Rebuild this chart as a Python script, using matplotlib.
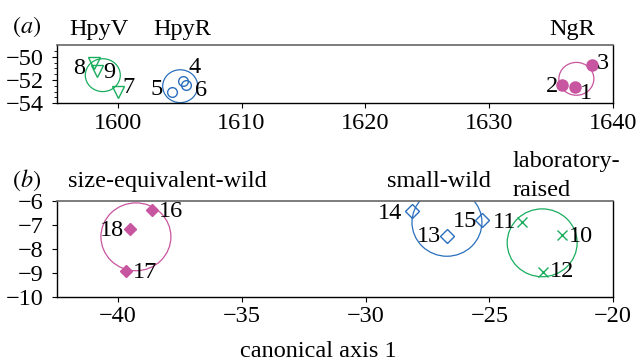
import numpy as np
import matplotlib
matplotlib.use("Agg")
import matplotlib.pyplot as plt
from matplotlib.patches import Circle

plt.rcParams['font.family'] = ['Liberation Serif', 'DejaVu Serif']
plt.rcParams['mathtext.fontset'] = 'stix'
plt.rcParams['font.size'] = 17.5
plt.rcParams['axes.unicode_minus'] = True

# panel (a): receptor groups
a_labels = ['1', '2', '3', '4', '5', '6', '7', '8', '9']
a_x = [1636.9, 1635.9, 1638.3, 1605.25, 1604.35, 1605.55, 1600.05, 1598.05, 1598.3]
a_y = [-52.6, -52.4, -50.7, -52.1, -53.05, -52.45, -53.05, -50.5, -51.2]
a_groups = {
    'NgR': [0, 1, 2],
    'HpyR': [3, 4, 5],
    'HpyV': [6, 7, 8],
}

# panel (b): fish origin groups
b_labels = ['10', '11', '12', '13', '14', '15', '16', '17', '18']
b_x = [-22.07, -23.68, -22.85, -26.72, -28.12, -25.3, -38.65, -39.69, -39.5]
b_y = [-7.43, -6.87, -8.96, -7.47, -6.43, -6.8, -6.39, -8.93, -7.19]
b_groups = {
    'laboratory-raised': [0, 1, 2],
    'small-wild': [3, 4, 5],
    'size-equivalent-wild': [6, 7, 8],
}

green = '#1aad5e'
blue = '#2a6fbd'
magenta = '#c8559f'
radius = 1.413  # 95% circle around the group mean (n = 3)

fig = plt.figure(figsize=(6.4, 3.61), dpi=100)
ax1 = fig.add_axes([0.089, 0.714, 0.869, 0.161])
ax2 = fig.add_axes([0.089, 0.178, 0.869, 0.266])

def style_axes(ax):
    for s in ['left', 'bottom', 'right']:
        ax.spines[s].set_color('black')
        ax.spines[s].set_linewidth(1.0)
    ax.spines['top'].set_color('#666666')
    ax.spines['top'].set_linewidth(1.2)
    ax.tick_params(direction='out', length=3.5, width=0.8)
    ax.tick_params(axis='y', pad=6)

# --- panel a ---
a_style = {
    'NgR': dict(marker='o', mfc=magenta, color=magenta, ms=8),
    'HpyR': dict(marker='o', mfc='none', color=blue, ms=7),
    'HpyV': dict(marker='v', mfc='none', color=green, ms=8),
}
for name, idx in a_groups.items():
    st = a_style[name]
    xs = np.array(a_x)[idx]
    ys = np.array(a_y)[idx]
    ax1.add_patch(Circle((xs.mean(), ys.mean()), radius, fill=False,
                         edgecolor=st['color'], lw=0.9))
    ax1.plot(xs, ys, ls='none', marker=st['marker'], ms=st['ms'],
             mfc=st['mfc'], mec=st['color'], mew=1)

# label offsets from each point, in data units
a_off = {'1': (0.9, -0.55), '2': (-0.86, -0.12), '3': (0.85, 0.08),
         '4': (0.92, 1.2), '5': (-1.19, 0.26), '6': (1.17, -0.49),
         '7': (0.81, 0.39), '8': (-1.18, -0.47), '9': (1.01, -0.12)}
for lab, x, y in zip(a_labels, a_x, a_y):
    dx, dy = a_off[lab]
    ax1.text(x + dx, y + dy, lab, ha='center', va='center')

ax1.set_xlim(1595.1, 1640)
ax1.set_ylim(-54, -49)
ax1.set_xticks([1600, 1610, 1620, 1630, 1640])
ax1.set_yticks([-50, -52, -54])
ax1.set_yticks(np.arange(-54, -49, 0.5), minor=True)
style_axes(ax1)
ax1.tick_params(axis='y', which='minor', length=2.5, width=0.6)

a_title_x = {'HpyV': 1598.5, 'HpyR': 1605.2, 'NgR': 1636.7}
for name, x in a_title_x.items():
    ax1.text(x, -48.1, name, ha='center', va='baseline', clip_on=False)
fig.text(0.018, 0.908, r'$(\mathit{a})$', ha='left', va='baseline')

# --- panel b ---
b_style = {
    'laboratory-raised': dict(marker='x', mfc=green, color=green, ms=7),
    'small-wild': dict(marker='D', mfc='none', color=blue, ms=7),
    'size-equivalent-wild': dict(marker='D', mfc=magenta, color=magenta, ms=6.5),
}
for name, idx in b_groups.items():
    st = b_style[name]
    xs = np.array(b_x)[idx]
    ys = np.array(b_y)[idx]
    ax2.add_patch(Circle((xs.mean(), ys.mean()), radius, fill=False,
                         edgecolor=st['color'], lw=0.9))
    ax2.plot(xs, ys, ls='none', marker=st['marker'], ms=st['ms'],
             mfc=st['mfc'], mec=st['color'], mew=1)

b_off = {'10': (0.77, -0.07), '11': (-0.69, -0.04), '12': (0.77, 0.0),
         '13': (-0.7, -0.03), '14': (-0.88, -0.1), '15': (-0.68, -0.07),
         '16': (0.8, -0.07), '17': (0.77, -0.06), '18': (-0.73, -0.03)}
for lab, x, y in zip(b_labels, b_x, b_y):
    dx, dy = b_off[lab]
    ax2.text(x + dx, y + dy, lab, ha='center', va='center')

ax2.set_xlim(-42.47, -20)
ax2.set_ylim(-10, -6)
ax2.set_xticks([-40, -35, -30, -25, -20])
ax2.set_yticks([-6, -7, -8, -9, -10])
style_axes(ax2)

ax2.text(-38.02, -5.44, 'size-equivalent-wild', ha='center', va='baseline', clip_on=False)
ax2.text(-27.05, -5.44, 'small-wild', ha='center', va='baseline', clip_on=False)
ax2.text(-24.08, -4.61, 'laboratory-', ha='left', va='baseline', clip_on=False)
ax2.text(-24.08, -5.8, 'raised', ha='left', va='baseline', clip_on=False)
fig.text(0.018, 0.483, r'$(\mathit{b})$', ha='left', va='baseline')

fig.text(0.498, 0.012, 'canonical axis 1', ha='center', va='baseline')

fig.savefig('out.png', dpi=100)
